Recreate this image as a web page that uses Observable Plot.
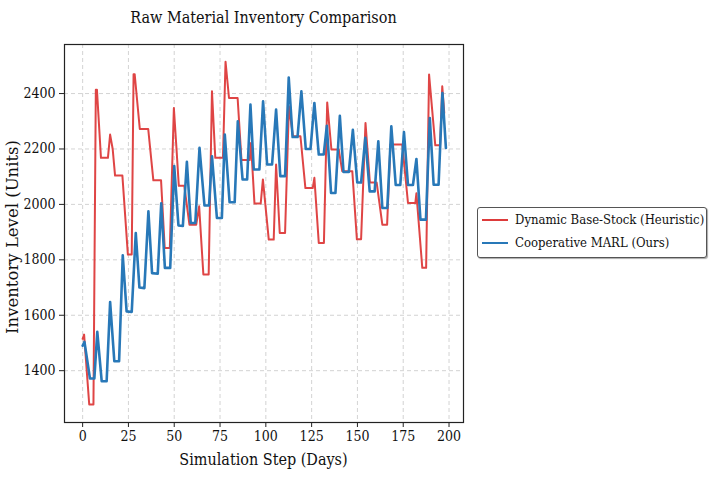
<!DOCTYPE html>
<html>
<head>
<meta charset="utf-8">
<script src="https://cdn.jsdelivr.net/npm/d3@7"></script>
<script src="https://cdn.jsdelivr.net/npm/@observablehq/plot@0.6"></script>
<style>
  html, body { margin: 0; padding: 0; background: #fff; }
  #wrap { position: relative; width: 718px; height: 481px; overflow: hidden; }
  .cond { font-family: "DejaVu Serif Condensed", "DejaVu Serif", serif; font-stretch: condensed; color: #111; }
  #title { position: absolute; left: 0; width: 527px; top: 10px; text-align: center; font-size: 16px; line-height: 16px; }
  #xlabel { position: absolute; left: 0; width: 527px; top: 452px; text-align: center; font-size: 16px; line-height: 16px; }
  #overlay { position: absolute; left: 0; top: 0; pointer-events: none; }
  #legend { position: absolute; left: 477px; top: 207px; width: 230px; height: 51px; box-sizing: border-box;
            border: 1px solid #555; border-radius: 3px; background: #fff; box-shadow: 1px 1px 1px #aaa; }
  .row { position: absolute; left: 0; height: 16px; font-size: 13px; line-height: 16px; white-space: nowrap; }
  .sw { position: absolute; left: 4px; top: 7px; width: 26px; height: 0; }
  .lt { position: absolute; left: 37px; top: 0; }
</style>
</head>
<body>
<div id="wrap">
  <div id="chart"></div>
  <div id="title" class="cond">Raw Material Inventory Comparison</div>
  <div id="xlabel" class="cond">Simulation Step (Days)</div>
  <svg id="overlay" width="718" height="481">
    <text transform="translate(13,237) rotate(-90)" text-anchor="middle" dominant-baseline="middle"
          font-family="DejaVu Serif, serif" font-size="16.5" fill="#111">Inventory Level (Units)</text>
  </svg>
  <div id="legend" class="cond">
    <div class="row" style="top:4px"><div class="sw" style="border-top:2px solid #dd3b3b"></div><span class="lt">Dynamic Base-Stock (Heuristic)</span></div>
    <div class="row" style="top:27px"><div class="sw" style="border-top:2.5px solid #2878b8"></div><span class="lt">Cooperative MARL (Ours)</span></div>
  </div>
</div>
<script>
// Tick labels
const xTicks = [0, 25, 50, 75, 100, 125, 150, 175, 200];
const yTicks = [1400, 1600, 1800, 2000, 2200, 2400];

// Series names
const seriesNames = ["Dynamic Base-Stock (Heuristic)", "Cooperative MARL (Ours)"];

// Dynamic Base-Stock (Heuristic) — vertices
const redDays = [0, 0.8, 3.6, 5.9, 7.2, 7.8, 10, 13.8, 15, 16.4, 17.7, 21.7, 24.7, 26.8, 27.8, 28.4, 31.2, 35.8, 38.6, 42.8,
  44.8, 47.6, 49.8, 51, 52.5, 55.5, 58.3, 62, 63.6, 65.9, 68.8, 70.6, 72.4, 76.6, 78, 79.9, 84.6, 86.7, 91.2, 91.9,
  93.8, 97.2, 98.4, 101.6, 104.3, 105.6, 107.6, 110.5, 112.6, 114.8, 118.9, 121.6, 125.6, 126.5, 128.9, 131.7, 133.5, 135.8, 139.8, 141.7,
  147.2, 149.7, 152, 154.4, 156.8, 160.5, 163.6, 166.2, 168, 174.5, 177.6, 181.6, 182.2, 185.4, 187.5, 189.1, 192.5, 195.1, 196.3, 197.4];
const redValues = [1515, 1530, 1278, 1278, 2414, 2414, 2168, 2168, 2252, 2200, 2104, 2104, 1819, 1819, 2470, 2470, 2272, 2272, 2087, 2087,
  1843, 1843, 2348, 2225, 2067, 2067, 1927, 1927, 1993, 1747, 1747, 2408, 2168, 2168, 2515, 2384, 2384, 2160, 2160, 2222,
  2003, 2003, 2090, 1873, 1873, 2144, 1897, 1897, 2354, 2246, 2246, 2059, 2059, 2096, 1861, 1861, 2368, 2198, 2198, 2120,
  2120, 1874, 1874, 2294, 2079, 2079, 1927, 1927, 2216, 2216, 2005, 2005, 2040, 1771, 1771, 2469, 2213, 2213, 2426, 2330];

// Cooperative MARL (Ours) — vertices
const blueDays = [0, 1, 4, 6.4, 8, 10.4, 13.1, 15, 17.3, 19.9, 21.9, 24, 26.8, 29, 31, 33.7, 35.9, 37.9, 41, 42.9,
  44.9, 47.8, 50, 52.3, 54.7, 56.9, 59, 61.5, 63.8, 66.5, 69, 70.6, 73.3, 76, 77.6, 80.2, 83, 84.7, 87.3, 89.8,
  91.6, 93.4, 96.5, 98.5, 100.7, 103.4, 105.6, 107.9, 110.5, 112.5, 114.6, 117.3, 119.4, 121.8, 124.4, 126.5, 128.9, 131.6, 133.3, 135.6,
  138, 140.4, 142.4, 145.3, 147.5, 149.9, 152, 154.3, 156.7, 159.4, 161.4, 163.6, 166.3, 168.5, 170.9, 173.4, 175.4, 177.6, 180.3, 182.2,
  184.4, 187.4, 189.5, 191.6, 194.3, 196.4, 198.3];
const blueValues = [1490, 1504, 1372, 1372, 1540, 1362, 1362, 1648, 1434, 1434, 1816, 1614, 1612, 1897, 1700, 1698, 1975, 1752, 1750, 2004,
  1771, 1771, 2138, 1924, 1922, 2154, 1933, 1933, 2204, 1996, 1996, 2174, 1951, 1951, 2252, 2008, 2008, 2300, 2090, 2090,
  2360, 2126, 2126, 2372, 2144, 2144, 2342, 2102, 2102, 2458, 2243, 2243, 2408, 2200, 2200, 2366, 2180, 2180, 2284, 2041,
  2041, 2320, 2117, 2117, 2269, 2079, 2079, 2240, 2047, 2047, 2228, 1987, 1987, 2282, 2070, 2070, 2261, 2070, 2070, 2164,
  1945, 1945, 2312, 2071, 2071, 2402, 2204];

const red = redDays.map((d, i) => ({day: d, value: redValues[i], series: seriesNames[0]}));
const blue = blueDays.map((d, i) => ({day: d, value: blueValues[i], series: seriesNames[1]}));

const fontFam = '"DejaVu Serif Condensed", "DejaVu Serif", serif';

const chart = Plot.plot({
  width: 718,
  height: 481,
  marginLeft: 64,
  marginRight: 255,
  marginTop: 44,
  marginBottom: 59,
  style: {fontFamily: fontFam, fontSize: "14px", fontStretch: "condensed", color: "#111", background: "white"},
  x: {domain: [-9.9, 207.9], label: null},
  y: {domain: [1213, 2577], label: null},
  marks: [
    Plot.gridX(xTicks, {stroke: "#c8c8c8", strokeOpacity: 1, strokeDasharray: "4,3", strokeWidth: 0.8}),
    Plot.gridY(yTicks, {stroke: "#c8c8c8", strokeOpacity: 1, strokeDasharray: "4,3", strokeWidth: 0.8}),
    Plot.line(red, {x: "day", y: "value", stroke: "#dd3b3b", strokeWidth: 2, strokeOpacity: 0.95, curve: "linear"}),
    Plot.line(blue, {x: "day", y: "value", stroke: "#2878b8", strokeWidth: 2.6, curve: "linear"}),
    Plot.frame({stroke: "#222", strokeWidth: 1.2}),
    Plot.axisX(xTicks, {tickSize: 5, tickPadding: 4, label: null, fontSize: 14, stroke: "#222", tickFormat: d3.format("d")}),
    Plot.axisY(yTicks, {tickSize: 5, tickPadding: 4, label: null, fontSize: 14, stroke: "#222", tickFormat: d3.format("d")})
  ]
});
document.getElementById("chart").appendChild(chart);
</script>
</body>
</html>
